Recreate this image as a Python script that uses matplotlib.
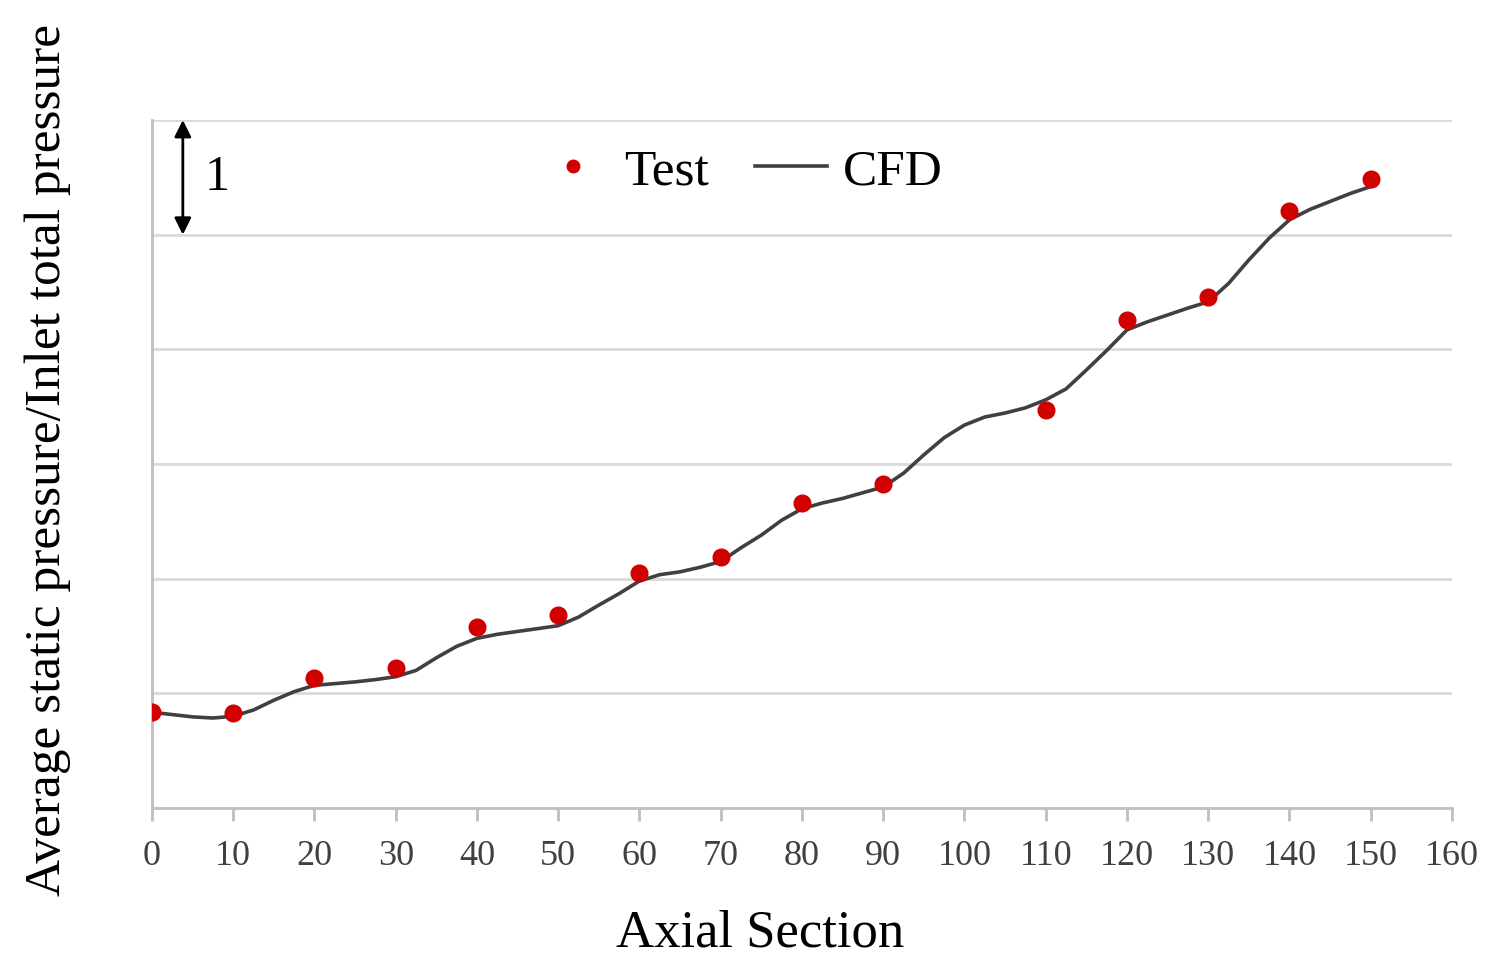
import numpy as np
import matplotlib
matplotlib.use("Agg")
import matplotlib.pyplot as plt

plt.rcParams['font.family'] = ['Liberation Serif', 'DejaVu Serif']

# Test points
test_x = [0, 10, 20, 30, 40, 50, 60, 70, 80, 90, 110, 120, 130, 140, 150]
test_y = [0.84, 0.83, 1.13, 1.22, 1.58, 1.68, 2.05, 2.19, 2.66, 2.83, 3.47, 4.26, 4.46, 5.21, 5.49]

# CFD curve (read every 2.5 units)
cfd_x = [0, 2.5, 5, 7.5, 10, 12.5, 15, 17.5, 20, 22.5, 25, 27.5, 30, 32.5, 35, 37.5,
         40, 42.5, 45, 47.5, 50, 52.5, 55, 57.5, 60, 62.5, 65, 67.5, 70, 72.5, 75, 77.5,
         80, 82.5, 85, 87.5, 90, 92.5, 95, 97.5, 100, 102.5, 105, 107.5, 110, 112.5,
         115, 117.5, 120, 122.5, 125, 127.5, 130, 132.5, 135, 137.5, 140, 142.5, 145,
         147.5, 150]
cfd_y = [0.835, 0.815, 0.795, 0.785, 0.80, 0.855, 0.94, 1.015, 1.07, 1.085, 1.10, 1.12,
         1.145, 1.20, 1.31, 1.41, 1.48, 1.515, 1.54, 1.565, 1.59, 1.665, 1.77, 1.87,
         1.98, 2.035, 2.06, 2.10, 2.15, 2.27, 2.38, 2.51, 2.61, 2.66, 2.70, 2.75, 2.80,
         2.92, 3.08, 3.23, 3.34, 3.41, 3.445, 3.49, 3.56, 3.655, 3.82, 3.99, 4.17, 4.24,
         4.30, 4.36, 4.415, 4.575, 4.78, 4.97, 5.13, 5.22, 5.29, 5.36, 5.42]

x_ticks = list(range(0, 161, 10))

fig = plt.figure(figsize=(15, 9.72), dpi=100)
ax = fig.add_axes([0.1013, 0.1687, 0.8667, 0.7078])

ax.set_xlim(0, 160)
ax.set_ylim(0, 6)

for g in range(1, 7):
    ax.axhline(g, color='#d9d9d9', lw=2, zorder=1)

ax.plot(cfd_x, cfd_y, color='#404040', lw=2.6, zorder=3, label='CFD')
ax.plot(test_x, test_y, 'o', color='#d00000', ms=12, zorder=4, label='Test')

for s in ['top', 'right']:
    ax.spines[s].set_visible(False)
for s in ['left', 'bottom']:
    ax.spines[s].set_color('#bfbfbf')
    ax.spines[s].set_linewidth(2)

ax.set_xticks(x_ticks)
ax.set_xticklabels([str(t) for t in x_ticks], fontsize=26, color='#404040')
ax.tick_params(axis='x', direction='out', length=9, width=2, color='#bfbfbf', pad=14)
ax.set_yticks([])

ax.set_xlabel('Axial Section', fontsize=38)
ax.xaxis.set_label_coords(0.468, -0.148)
ax.set_ylabel('Average static pressure/Inlet total pressure', fontsize=37)
ax.yaxis.set_label_coords(-0.062, 0.506)

# scale arrow for one grid unit
ax.annotate('', xy=(3.8, 6), xytext=(3.8, 5),
            arrowprops=dict(arrowstyle='<|-|>', color='black', lw=2,
                            mutation_scale=25, shrinkA=0, shrinkB=0))
ax.text(6.5, 5.5, '1', fontsize=36, va='center', ha='left')

handles, labels = ax.get_legend_handles_labels()
ax.legend(handles[::-1], labels[::-1], loc='center', bbox_to_anchor=(0.452, 0.925),
          ncol=2, frameon=False, fontsize=37, handlelength=1.4, handletextpad=0.3,
          columnspacing=0.9, markerscale=0.75)

fig.savefig('out.png', dpi=100)
